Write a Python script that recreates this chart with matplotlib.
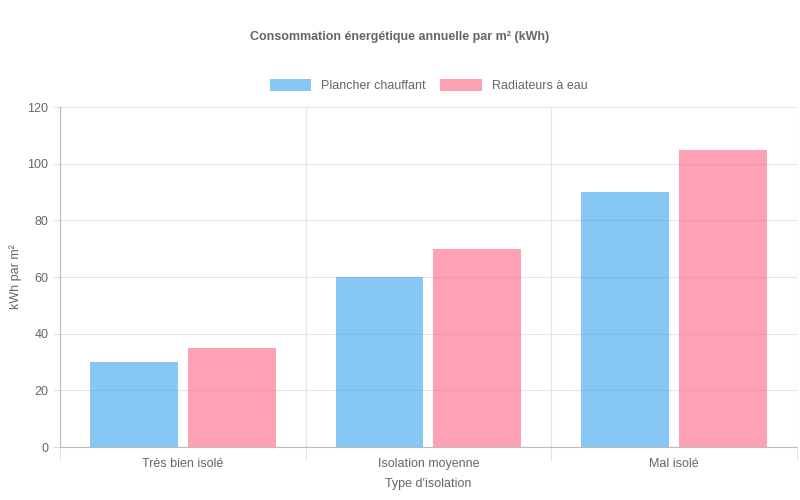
import numpy as np
import matplotlib
matplotlib.use("Agg")
import matplotlib.pyplot as plt

plt.rcParams['font.family'] = ['Liberation Sans', 'DejaVu Sans']

categories = ["Très bien isolé", "Isolation moyenne", "Mal isolé"]
plancher = [30, 60, 90]
radiateurs = [35, 70, 105]

fig = plt.figure(figsize=(8, 5), dpi=100)
ax = fig.add_axes([0.075, 0.106, 0.921, 0.68])

x = np.arange(len(categories))
w = 0.358
gap = 0.02
ax.bar(x - w / 2 - gap, plancher, w, color=(54/255, 162/255, 235/255, 0.6), label="Plancher chauffant")
ax.bar(x + w / 2 + gap, radiateurs, w, color=(255/255, 99/255, 132/255, 0.6), label="Radiateurs à eau")

ax.set_xlim(-0.5, 2.5)
ax.set_ylim(0, 120)
ax.set_yticks(range(0, 121, 20))
ax.set_xticks(x)
ax.set_xticklabels(categories)
ax.set_xticks([-0.5, 0.5, 1.5, 2.5], minor=True)
ax.tick_params(axis='x', which='major', length=0, pad=8, labelsize=9, labelcolor='#666666')
ax.tick_params(axis='x', which='minor', length=10, color='#dddddd')
ax.tick_params(axis='y', length=5, color='#dddddd', labelsize=9, labelcolor='#666666')
ax.grid(axis='y', color='#e5e5e5', linewidth=0.8)
ax.grid(axis='x', which='minor', color='#e5e5e5', linewidth=0.8)
ax.set_axisbelow(True)
for s in ['top', 'right']:
    ax.spines[s].set_visible(False)
for s in ['left', 'bottom']:
    ax.spines[s].set_color('#bbbbbb')

ax.set_xlabel("Type d'isolation", color='#666666', fontsize=9, labelpad=6)
ax.set_ylabel("kWh par m²", color='#666666', fontsize=9)

fig.suptitle("Consommation énergétique annuelle par m² (kWh)", y=0.938, fontsize=9,
             fontweight='bold', color='#666666')
ax.legend(loc='lower center', bbox_to_anchor=(0.5, 1.01), ncol=2, frameon=False,
          fontsize=9, labelcolor='#666666', handlelength=3.3, handleheight=1.0,
          columnspacing=1.2)

fig.savefig("out.png", dpi=100)
